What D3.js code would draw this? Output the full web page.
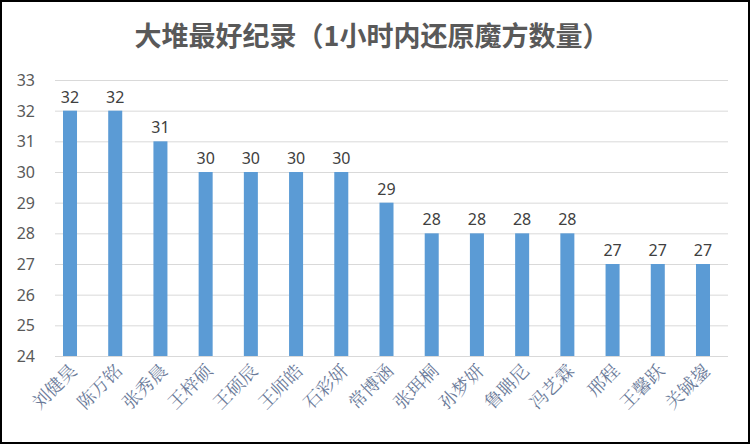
<!DOCTYPE html>
<html><head><meta charset="utf-8">
<script src="https://cdn.jsdelivr.net/npm/d3@7"></script>
<style>body{margin:0;background:#fff}svg{display:block}</style>
</head><body>
<svg id="chart" width="750" height="444"></svg>
<script>
var names = ["刘健昊","陈万铭","张秀晨","王梓硕","王硕辰","王师皓","石彩妍","常博涵","张珥桐","孙梦妍","鲁聃尼","冯艺霖","邢程","王馨跃","关铖鋆"];
var scores = [32,32,31,30,30,30,30,29,28,28,28,28,27,27,27];
var yTicks = [24,25,26,27,28,29,30,31,32,33];

var svg = d3.select("#chart");
svg.append("rect").attr("x",1).attr("y",1).attr("width",748).attr("height",442)
    .attr("fill","#fff").attr("stroke","#000").attr("stroke-width",2);

svg.append("text").attr("x",372).attr("y",46).attr("text-anchor","middle")
    .attr("font-family","Noto Sans CJK SC").attr("font-weight","bold")
    .attr("font-size",27).attr("fill","#595959")
    .text("大堆最好纪录（1小时内还原魔方数量）");

var x = d3.scaleBand().domain(names).range([47.4, 725.6]).paddingInner(0.69).paddingOuter(0.345);
var y = d3.scaleLinear().domain([24, 33]).range([356, 80]);

svg.append("g").selectAll("line").data(yTicks).enter().append("line")
    .attr("x1",55).attr("x2",728)
    .attr("y1",function (d) { return y(d) + 0.5; })
    .attr("y2",function (d) { return y(d) + 0.5; })
    .attr("stroke","#d9d9d9");

svg.append("g").selectAll("text").data(yTicks).enter().append("text")
    .attr("x",35).attr("y",function (d) { return y(d) + 6; })
    .attr("text-anchor","end").attr("font-family","Noto Sans").attr("font-size",16)
    .attr("fill","#595959").text(function (d) { return d; });

svg.append("g").selectAll("rect").data(scores).enter().append("rect")
    .attr("x",function (d, i) { return x(names[i]); })
    .attr("width",x.bandwidth())
    .attr("y",function (d) { return y(d); })
    .attr("height",function (d) { return y(24) - y(d); })
    .attr("fill","#5b9bd5");

svg.append("g").selectAll("text").data(scores).enter().append("text")
    .attr("x",function (d, i) { return x(names[i]) + x.bandwidth() / 2; })
    .attr("y",function (d) { return y(d) - 8; })
    .attr("text-anchor","middle").attr("font-family","Noto Sans").attr("font-size",16)
    .attr("fill","#404040").text(function (d) { return d; });

svg.append("g").selectAll("text").data(names).enter().append("text")
    .attr("transform",function (d) {
        return "translate(" + (x(d) + x.bandwidth() / 2 + 8) + ",372) rotate(-45)";
    })
    .attr("text-anchor","end").attr("font-family","Noto Serif CJK SC, Noto Sans CJK SC")
    .attr("font-size",18).attr("fill","#6a7a99").text(function (d) { return d; });
</script>
</body></html>
